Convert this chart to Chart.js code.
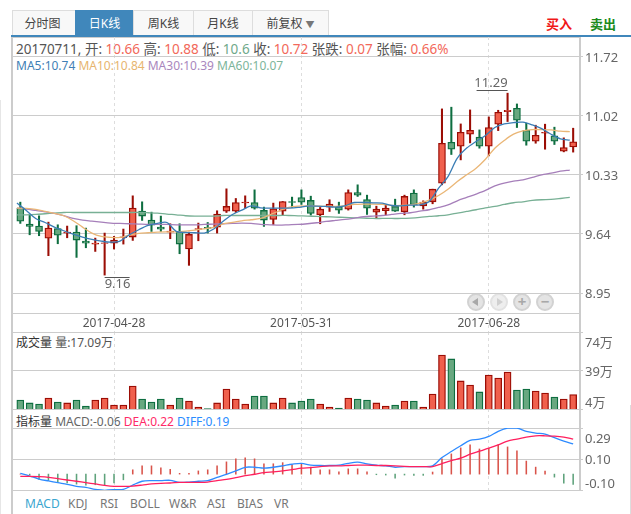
<!DOCTYPE html>
<html lang="zh">
<head>
<meta charset="utf-8">
<title>日K线</title>
<script src="https://cdn.jsdelivr.net/npm/chart.js@4"></script>
<style>
html,body{margin:0;padding:0;background:#fff;width:631px;height:514px;overflow:hidden}
body{position:relative;font-family:"Noto Sans","Noto Sans CJK SC",sans-serif;font-size:12px;color:#555}
canvas{position:absolute;left:0;top:0;pointer-events:none}
.a{position:absolute;white-space:pre}
.l{position:absolute;background:#ccc}
.tab{position:absolute;top:10px;height:25px;line-height:25px;text-align:center;background:#f8f8f8;border:1px solid #ddd;border-bottom:none;box-sizing:border-box;font-size:12px;color:#444}
.tab.on{background:#4087bb;color:#fff;border-color:#4087bb}
.btn{position:absolute;top:293px;width:18px;height:18px;border-radius:50%;background:#e4e4e4;border:2px solid #d2d2d2;box-sizing:border-box;text-align:center;line-height:13px;font-size:15px;font-weight:bold;color:#a8a8a8}
.tri{position:absolute;top:3px;width:0;height:0;border-top:4px solid transparent;border-bottom:4px solid transparent}
.ind{position:absolute;top:495px;font-size:12px;color:#777}
</style>
</head>
<body>
<div class="l" style="left:0;top:100px;width:1px;height:414px;background:#e6e6e6"></div>
<div class="l" style="left:630px;top:405px;width:1px;height:109px;background:#ddd"></div>
<div class="l" style="left:11px;top:35px;width:620px;height:2px;background:#4087bb"></div>
<div class="l" style="left:12px;top:37px;width:568px;height:1px"></div>
<div class="l" style="left:11px;top:37px;width:2px;height:477px"></div>
<div class="l" style="left:579px;top:37px;width:2px;height:453px"></div>
<div class="l" style="left:12px;top:313px;width:568px;height:1px"></div>

<div class="tab" style="left:12px;width:64px;padding-right:3px">分时图</div>
<div class="tab on" style="left:75px;width:59px">日K线</div>
<div class="tab" style="left:133px;width:61px">周K线</div>
<div class="tab" style="left:193px;width:60px">月K线</div>
<div class="tab" style="left:252px;width:77px">前复权 <span style="font-size:9px;color:#777">▼</span></div>
<div class="a" style="left:546px;top:14px;font-size:13px;font-weight:bold;color:#f01818">买入</div>
<div class="a" style="left:590px;top:14px;font-size:13px;font-weight:bold;color:#1b8a1b">卖出</div>

<div class="a" style="left:16px;top:38px;font-size:13.5px;color:#555">20170711, 开: <span style="color:#f2695a">10.66</span> 高: <span style="color:#f2695a">10.88</span> 低: <span style="color:#6fa98a">10.6</span> 收: <span style="color:#f2695a">10.72</span> 张跌: <span style="color:#f2695a">0.07</span> 张幅: <span style="color:#f2695a">0.66%</span></div>
<div class="a" style="left:16px;top:57px;font-size:12px"><span style="color:#3f7fb5">MA5:10.74</span> <span style="color:#e7b56f">MA10:10.84</span> <span style="color:#a987bd">MA30:10.39</span> <span style="color:#7db59a">MA60:10.07</span></div>
<div class="a" style="left:16px;top:333px;font-size:12px;color:#555"><span style="color:#333">成交量</span> 量:17.09万</div>
<div class="a" style="left:16px;top:412px;font-size:12px;color:#666"><span style="color:#333">指标量</span> MACD:-0.06 <span style="color:#ff2a68">DEA:0.22</span> <span style="color:#2b8cff">DIFF:0.19</span></div>

<div class="btn" style="left:467px"><div class="tri" style="left:3px;border-right:6px solid #a8a8a8"></div></div>
<div class="btn" style="left:490px;background:#eee;border-color:#e2e2e2"><div class="tri" style="left:5px;border-left:6px solid #d0d0d0"></div></div>
<div class="btn" style="left:513px">+</div>
<div class="btn" style="left:536px">−</div>

<div class="ind" style="left:25px;color:#3aa6d0">MACD</div>
<div class="ind" style="left:68px">KDJ</div>
<div class="ind" style="left:100px">RSI</div>
<div class="ind" style="left:130px">BOLL</div>
<div class="ind" style="left:169px">W&amp;R</div>
<div class="ind" style="left:207px">ASI</div>
<div class="ind" style="left:237px">BIAS</div>
<div class="ind" style="left:274px">VR</div>

<canvas id="price" width="631" height="514"></canvas>
<canvas id="vol" width="631" height="514"></canvas>
<canvas id="ind" width="631" height="514"></canvas>

<script>
const opens=[9.944,9.757,9.734,9.593,9.706,9.652,9.663,9.558,9.523,9.531,9.535,9.597,9.605,9.909,9.804,9.722,9.663,9.667,9.465,9.695,9.718,9.722,9.909,9.909,10.006,10.010,9.917,9.812,9.909,10.022,10.069,10.034,9.866,9.956,9.964,9.932,10.127,10.045,9.897,9.913,9.964,9.901,10.120,9.971,10.018,10.237,10.716,10.669,10.810,10.775,10.669,10.927,11.075,11.114,10.856,10.728,10.821,10.790,10.611,10.66];
const closes=[9.792,9.730,9.671,9.710,9.628,9.663,9.570,9.535,9.535,9.539,9.570,9.609,9.944,9.851,9.745,9.699,9.675,9.523,9.636,9.706,9.706,9.874,9.964,10.010,10.014,9.944,9.804,9.936,10.022,10.010,10.014,9.882,9.932,9.991,9.921,10.127,10.096,9.944,9.932,9.944,9.909,10.081,9.983,10.014,10.166,10.704,10.634,10.833,10.856,10.669,10.888,11.067,11.090,10.973,10.728,10.798,10.833,10.728,10.654,10.72];
const highs=[10.014,9.866,9.854,9.780,9.749,9.734,9.738,9.710,9.593,9.652,9.613,9.699,10.088,10.018,9.897,9.851,9.761,9.761,9.663,9.769,9.776,9.913,10.170,10.057,10.088,10.158,9.956,10.003,10.022,10.073,10.158,10.084,9.952,10.042,10.014,10.158,10.217,10.096,9.967,9.983,10.049,10.096,10.158,10.030,10.166,11.106,11.126,10.930,11.094,10.860,11.012,11.090,11.29,11.164,10.938,10.915,10.927,10.892,10.767,10.88];
const lows=[9.765,9.632,9.621,9.387,9.527,9.597,9.367,9.480,9.437,9.16,9.465,9.523,9.566,9.800,9.671,9.671,9.586,9.410,9.274,9.562,9.652,9.652,9.893,9.893,9.944,9.932,9.730,9.749,9.866,9.952,9.987,9.862,9.761,9.905,9.882,9.921,10.081,9.870,9.823,9.866,9.905,9.866,9.956,9.932,9.995,10.217,10.572,10.509,10.708,10.646,10.556,10.852,10.958,10.888,10.681,10.704,10.634,10.689,10.603,10.60];
const ma5=[10.003,9.917,9.823,9.776,9.722,9.679,9.640,9.605,9.578,9.558,9.546,9.558,9.632,9.691,9.741,9.765,9.776,9.671,9.660,9.656,9.652,9.699,9.79,9.87,9.92,9.971,9.948,9.944,9.944,9.944,9.952,9.968,9.968,9.964,9.956,9.971,10.010,10.010,10.006,10.003,9.975,9.971,9.979,9.983,10.022,10.178,10.314,10.529,10.647,10.725,10.795,10.888,10.930,10.946,10.950,10.919,10.876,10.809,10.755,10.74];
const ma10=[9.944,9.940,9.929,9.905,9.882,9.855,9.796,9.722,9.652,9.613,9.601,9.601,9.628,9.648,9.656,9.663,9.667,9.667,9.675,9.687,9.702,9.718,9.761,9.776,9.796,9.808,9.823,9.866,9.913,9.952,9.968,9.971,9.968,9.964,9.964,9.971,9.987,9.991,9.991,9.987,9.975,9.975,9.983,10.003,10.038,10.092,10.166,10.256,10.334,10.412,10.517,10.646,10.736,10.810,10.849,10.864,10.864,10.860,10.845,10.84];
const ma30=[9.944,9.933,9.917,9.901,9.882,9.855,9.823,9.804,9.792,9.780,9.769,9.765,9.761,9.757,9.753,9.753,9.753,9.749,9.749,9.749,9.753,9.757,9.761,9.765,9.769,9.765,9.753,9.749,9.745,9.749,9.753,9.761,9.773,9.788,9.800,9.812,9.827,9.843,9.851,9.858,9.870,9.882,9.890,9.909,9.925,9.952,9.983,10.030,10.069,10.108,10.151,10.205,10.237,10.260,10.275,10.303,10.334,10.353,10.377,10.39];
const ma60=[9.866,9.866,9.870,9.878,9.886,9.893,9.893,9.893,9.893,9.893,9.893,9.893,9.893,9.893,9.890,9.886,9.874,9.866,9.855,9.851,9.851,9.851,9.858,9.858,9.858,9.858,9.858,9.858,9.858,9.858,9.854,9.851,9.847,9.843,9.839,9.835,9.831,9.827,9.823,9.823,9.823,9.823,9.827,9.835,9.847,9.855,9.866,9.886,9.905,9.925,9.948,9.964,9.987,10.007,10.018,10.034,10.042,10.046,10.057,10.07];
const volumes=[12.2,9.5,8.5,14,10.4,9.5,12.2,6.7,12.2,14,7.6,7.6,24.9,13.1,10.4,13.1,7.6,14,11.3,5.8,4.3,9.5,22.2,13.1,8.5,15.8,15.8,9.5,14,9.5,11.3,13.1,8.5,5.8,4.9,14,13.1,12.2,9.5,6.7,7.6,11.3,11.3,5.8,17.6,53.1,49.5,29.5,25.8,19.5,34.9,32.2,37.6,21.3,22.2,20.4,18.5,14.9,13.1,17.09];
const macd=[0,-0.006,-0.033,-0.04,-0.05,-0.055,-0.063,-0.07,-0.067,-0.072,-0.055,-0.036,0.027,0.052,0.052,0.04,0.03,0.005,0.005,0.02,0.027,0.052,0.077,0.096,0.103,0.096,0.065,0.065,0.072,0.058,0.065,0.044,0.027,0.027,0.014,0.033,0.033,0.014,-0.004,-0.006,-0.025,-0.006,-0.008,-0.008,0.013,0.096,0.127,0.165,0.184,0.158,0.162,0.184,0.171,0.146,0.082,0.044,0.019,-0.019,-0.057,-0.065];
const diff=[0.005,-0.012,-0.031,-0.043,-0.054,-0.064,-0.077,-0.083,-0.096,-0.102,-0.098,-0.096,-0.069,-0.045,-0.041,-0.041,-0.039,-0.052,-0.05,-0.045,-0.041,-0.02,-0.001,0.02,0.043,0.043,0.037,0.043,0.052,0.062,0.068,0.056,0.054,0.054,0.056,0.068,0.075,0.064,0.056,0.052,0.043,0.047,0.047,0.047,0.052,0.104,0.142,0.178,0.212,0.22,0.237,0.269,0.29,0.29,0.269,0.258,0.252,0.229,0.208,0.19];
const dea=[-0.014,-0.014,-0.016,-0.02,-0.029,-0.037,-0.045,-0.054,-0.062,-0.071,-0.077,-0.077,-0.075,-0.069,-0.062,-0.058,-0.056,-0.052,-0.052,-0.052,-0.05,-0.041,-0.033,-0.022,-0.01,-0.001,0.009,0.014,0.02,0.028,0.037,0.041,0.047,0.052,0.052,0.054,0.056,0.056,0.054,0.054,0.052,0.049,0.047,0.047,0.047,0.066,0.085,0.1,0.125,0.144,0.163,0.184,0.208,0.22,0.233,0.241,0.241,0.239,0.233,0.22];
const dateTickIndex=[10,30,50];
const dateTickLabels=['2017-04-28','2017-05-31','2017-06-28'];
const priceTicks=[11.72,11.0275,10.335,9.6425,8.95];
const priceTickLabels=['11.72','11.02','10.33','9.64','8.95'];
const volTicks=[74,39,4];
const volTickLabels=[['','74万'],'39万',['4万','']];
const indTicks=[0.29,0.095,-0.10];
const indTickLabels=[['','0.29'],'0.10',['-0.10','']];
const highMark={index:52,value:11.29,text:'11.29'};
const lowMark={index:9,value:9.16,text:'9.16'};

const FONT='"Noto Sans","Noto Sans CJK SC",sans-serif';
const RED='#f0604d',REDB='#9b0d05',GRN='#68a880',GRNB='#0e6e40';
const GRID='#cccccc',DASH='#dddddd',TXT='#666666';
const up=closes.map((c,i)=>c>=opens[i]);
const xy=a=>a.map((y,x)=>({x,y}));
const xMin=-0.886,xMax=59.73,lineShift=0.36;
const shifted=a=>a.map((y,x)=>({x:x-lineShift,y}));

function xAxis(h,tick,showLabels){
  return {type:'linear',min:xMin,max:xMax,offset:false,position:'bottom',
    afterBuildTicks:s=>{s.ticks=dateTickIndex.map(value=>({value}));},
    afterFit:s=>{s.height=h;},
    border:{display:false,dash:[3,3]},
    grid:{offset:false,color:DASH,tickColor:DASH,tickLength:tick,tickBorderDash:[3,3],drawTicks:tick>0},
    ticks:{display:showLabels,autoSkip:false,maxRotation:0,padding:-tick+3,color:'#555',font:{family:FONT,size:12},
      callback:(v,i)=>dateTickLabels[i]}};
}
function yAxis(min,max,vals,labels){
  return {type:'linear',position:'right',min,max,
    afterBuildTicks:s=>{s.ticks=vals.map(value=>({value}));},
    afterFit:s=>{s.width=51;},
    border:{display:false},
    grid:{color:GRID,tickColor:GRID,tickLength:3},
    ticks:{autoSkip:false,padding:2,labelOffset:1.5,color:TXT,
      font:c=>({family:FONT,size:13,lineHeight:c.index===0?'20px':'14px'}),
      callback:(v,i)=>labels[i]}};
}
const base={responsive:false,animation:false,devicePixelRatio:1,
  plugins:{legend:{display:false},tooltip:{enabled:false}},
  events:[]};
const lineDs=(data,color,w)=>({type:'line',data,borderColor:color,borderWidth:w,pointRadius:0,tension:0.3,order:0,clip:true});

const marks={id:'marks',afterDatasetsDraw(c){
  const g=c.ctx,x=c.scales.x,y=c.scales.y;
  g.save();g.font='13px '+FONT;g.fillStyle='#666';g.strokeStyle='#555';g.lineWidth=1;g.textBaseline='middle';
  const hx=x.getPixelForValue(highMark.index),hy=y.getPixelForValue(highMark.value);
  g.textAlign='right';g.fillText(highMark.text,hx,hy-10);
  g.beginPath();g.moveTo(hx-31,Math.round(hy-3)+.5);g.lineTo(hx,Math.round(hy-3)+.5);g.stroke();
  const lx=x.getPixelForValue(lowMark.index),ly=y.getPixelForValue(lowMark.value);
  g.textAlign='left';g.fillText(lowMark.text,lx,ly+9);
  g.beginPath();g.moveTo(lx,Math.round(ly+2)+.5);g.lineTo(lx+25,Math.round(ly+2)+.5);g.stroke();
  g.restore();
}};

new Chart(document.getElementById('price'),{
  type:'bar',
  data:{datasets:[
    lineDs(shifted(ma5),'#3a7db5',1.3),
    lineDs(shifted(ma10),'#eab676',1.3),
    lineDs(shifted(ma30),'#a67fba',1.3),
    lineDs(shifted(ma60),'#78b095',1.3),
    {data:opens.map((o,x)=>({x,y:[o,closes[x]]})),barThickness:7,borderWidth:1.3,borderSkipped:false,
      backgroundColor:up.map(u=>u?RED:GRN),borderColor:up.map(u=>u?REDB:GRNB),order:1},
    {data:lows.map((l,x)=>({x,y:[l,highs[x]]})),barThickness:1.4,borderWidth:0,
      backgroundColor:up.map(u=>u?REDB:GRNB),order:2}
  ]},
  plugins:[marks],
  options:{...base,
    datasets:{bar:{grouped:false}},
    layout:{padding:{left:12,right:0,top:37,bottom:181}},
    scales:{x:xAxis(20,19,true),y:yAxis(8.716,11.948,priceTicks,priceTickLabels)}}
});

new Chart(document.getElementById('vol'),{
  type:'bar',
  data:{datasets:[{data:xy(volumes),barThickness:7,borderWidth:1.3,borderSkipped:false,
    backgroundColor:up.map(u=>u?RED:GRN),borderColor:up.map(u=>u?REDB:GRNB)}]},
  options:{...base,
    datasets:{bar:{grouped:false}},
    layout:{padding:{left:12,right:0,top:332,bottom:86}},
    scales:{x:xAxis(19,19,false),y:yAxis(4,74,volTicks,volTickLabels)}}
});

new Chart(document.getElementById('ind'),{
  type:'bar',
  data:{datasets:[
    lineDs(xy(dea),'#ff1f5e',1.3),
    lineDs(xy(diff),'#2e8bff',1.3),
    {data:xy(macd),barThickness:0.9,borderWidth:0,order:1,
      backgroundColor:macd.map(v=>v>=0?'#d9534a':'#5fa37c')}
  ]},
  options:{...base,
    datasets:{bar:{grouped:false}},
    layout:{padding:{left:12,right:0,top:428,bottom:24}},
    scales:{x:xAxis(0,0,false),y:yAxis(-0.10,0.29,indTicks,indTickLabels)}}
});
</script>
</body>
</html>
